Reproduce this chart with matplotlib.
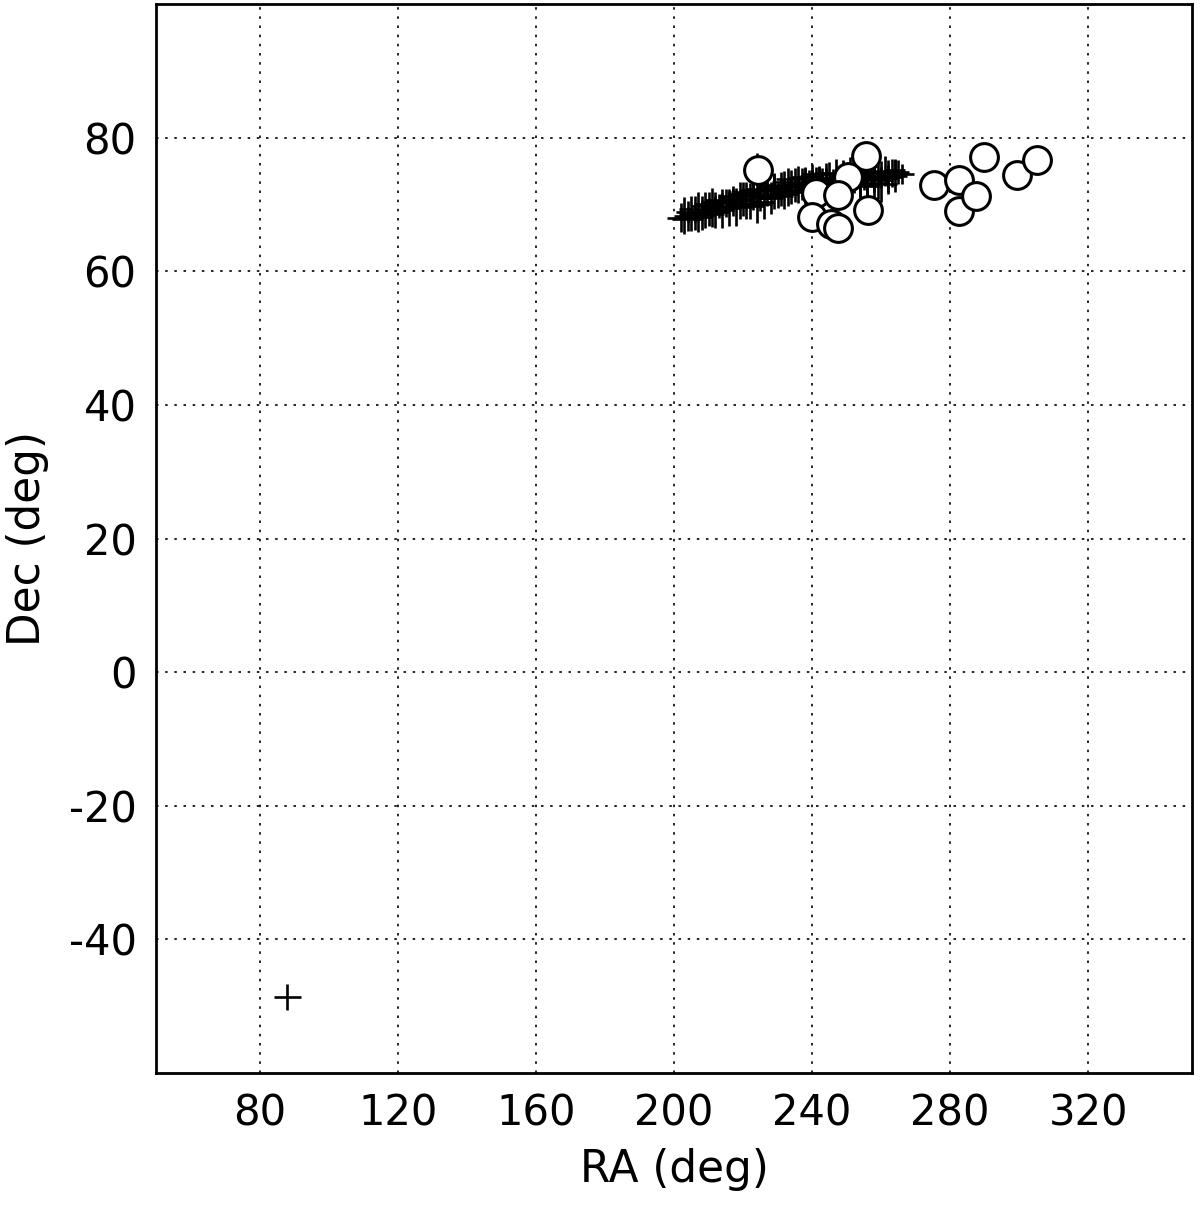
import matplotlib
matplotlib.use("Agg")
import matplotlib.pyplot as plt

# Cross (error-bar) sources
cross_ra = [202, 203, 204, 205, 206, 207, 208, 209, 210, 211, 212, 213, 214, 215,
            204, 206, 208, 210, 212, 214, 216,
            216, 217, 218, 219, 220, 221, 222, 223, 224, 225, 226, 227, 228, 229, 230,
            217, 219, 221, 223, 225, 227, 229,
            231, 232, 233, 234, 235, 236, 237, 238, 239, 240, 241, 242, 243, 244, 245,
            232, 234, 236, 238, 240, 242, 244,
            246, 247, 248, 249, 250, 251, 252, 253, 254, 255, 256, 257, 258, 259, 260,
            261, 262, 263, 264, 265, 266, 258, 260, 262, 256, 254, 264, 224, 88]
cross_dec = [68.0, 68.3, 67.8, 68.6, 68.1, 68.9, 68.4, 69.2, 68.6, 69.5, 68.9, 69.8, 69.1, 70.2,
             68.9, 69.3, 69.8, 70.1, 70.4, 70.6, 71.0,
             69.4, 70.3, 69.6, 70.0, 70.8, 69.7, 70.5, 71.2, 70.1, 71.0, 70.4, 71.6, 70.9, 72.0, 71.3,
             71.2, 71.6, 71.9, 72.1, 72.3, 72.6, 72.9,
             72.3, 71.5, 72.6, 71.9, 72.9, 72.2, 73.0, 72.5, 73.3, 72.7, 73.5, 72.9, 73.6, 73.1, 73.8,
             73.4, 73.8, 74.0, 74.1, 74.3, 74.5, 74.7,
             73.3, 74.0, 73.5, 74.2, 73.7, 74.4, 73.9, 74.6, 74.0, 74.3, 73.8, 74.8, 74.2, 73.6, 74.5,
             75.0, 74.1, 74.7, 74.3, 74.9, 74.5, 73.2, 73.0, 73.9, 72.8, 73.1, 75.2, 76.0, -48.6]
cross_raerr = [4.0, 3.0, 4.5, 3.5, 5.0, 3.0, 4.0, 3.5, 4.5, 3.0, 4.0, 5.0, 3.5, 3.0,
               3.5, 4.5, 3.0, 4.0, 3.5, 5.0, 3.0,
               3.5, 3.0, 4.5, 4.0, 3.5, 5.0, 3.0, 4.0, 4.5, 3.5, 3.0, 5.0, 3.5, 4.0, 4.5,
               4.0, 3.0, 4.5, 3.5, 4.0, 3.0, 4.5,
               3.0, 4.0, 3.5, 5.0, 3.0, 4.0, 4.5, 3.5, 3.0, 5.0, 4.0, 3.5, 4.5, 3.0, 4.0,
               3.5, 4.5, 3.0, 4.0, 3.5, 5.0, 3.5,
               3.5, 4.5, 3.0, 4.0, 5.0, 3.5, 3.0, 4.5, 4.0, 3.5, 5.0, 3.0, 4.0, 4.5, 3.5,
               3.0, 4.0, 4.5, 3.5, 3.0, 3.5, 4.0, 4.5, 3.0, 3.5, 4.0, 3.0, 2.0, 3.9]
cross_decerr = [2.2, 2.8, 1.8, 2.6, 2.0, 3.0, 2.3, 2.7, 1.9, 2.9, 2.4, 1.8, 2.6, 2.1,
                1.6, 2.0, 1.4, 1.8, 1.5, 1.7, 1.3,
                2.6, 2.0, 2.8, 2.2, 2.5, 1.9, 2.7, 2.1, 2.9, 2.0, 2.6, 1.8, 2.4, 2.7, 1.9,
                1.5, 1.8, 1.4, 1.7, 1.5, 1.3, 1.6,
                2.5, 2.2, 2.8, 1.9, 2.6, 2.0, 2.4, 2.9, 1.9, 2.5, 2.1, 2.7, 1.8, 2.3, 2.6,
                1.6, 1.4, 1.8, 1.5, 1.7, 1.3, 1.5,
                2.0, 2.8, 2.1, 2.4, 1.9, 2.7, 2.2, 2.0, 2.9, 2.1, 2.5, 1.9, 2.4, 2.8, 2.0,
                2.2, 2.6, 2.1, 2.4, 1.8, 1.5, 2.3, 2.6, 2.0, 2.4, 2.2, 1.6, 1.7, 1.9]

# Open-circle sources
circ_ra = [224.3, 255.6, 241.1, 250.4, 247.5, 240.0, 245.5, 247.5, 256.2,
           275.3, 282.5, 282.5, 287.5, 289.8, 299.3, 305.1]
circ_dec = [75.2, 77.3, 71.7, 74.1, 71.4, 68.1, 67.1, 66.5, 69.2,
            72.9, 73.7, 69.0, 71.3, 77.1, 74.4, 76.7]

xticks = [80, 120, 160, 200, 240, 280, 320]
yticks = [-40, -20, 0, 20, 40, 60, 80]

plt.rcParams['font.family'] = ['DejaVu Sans']
plt.rcParams['axes.unicode_minus'] = False
fig = plt.figure(figsize=(12, 12.05), dpi=100)
ax = fig.add_axes([0.13, 0.1095, 0.8633, 0.8872])

ax.errorbar(cross_ra, cross_dec, xerr=cross_raerr, yerr=cross_decerr,
            fmt='none', ecolor='black', elinewidth=1.9, capsize=0, zorder=2)
ax.plot(circ_ra, circ_dec, 'o', markersize=20, markerfacecolor='white',
        markeredgecolor='black', markeredgewidth=2.2, linestyle='none', zorder=3)

ax.set_xlim(50, 350)
ax.set_ylim(-60, 100)
ax.set_xticks(xticks)
ax.set_yticks(yticks)
ax.grid(True, color='black', linestyle=(0, (1.5, 4)), linewidth=1.2)
ax.tick_params(direction='in', length=0, labelsize=30, pad=14)
for s in ax.spines.values():
    s.set_linewidth(2)
ax.set_xlabel('RA (deg)', fontsize=31.5, labelpad=10)
ax.set_ylabel('Dec (deg)', fontsize=31.5, labelpad=14)

fig.savefig('out.png', dpi=100)
